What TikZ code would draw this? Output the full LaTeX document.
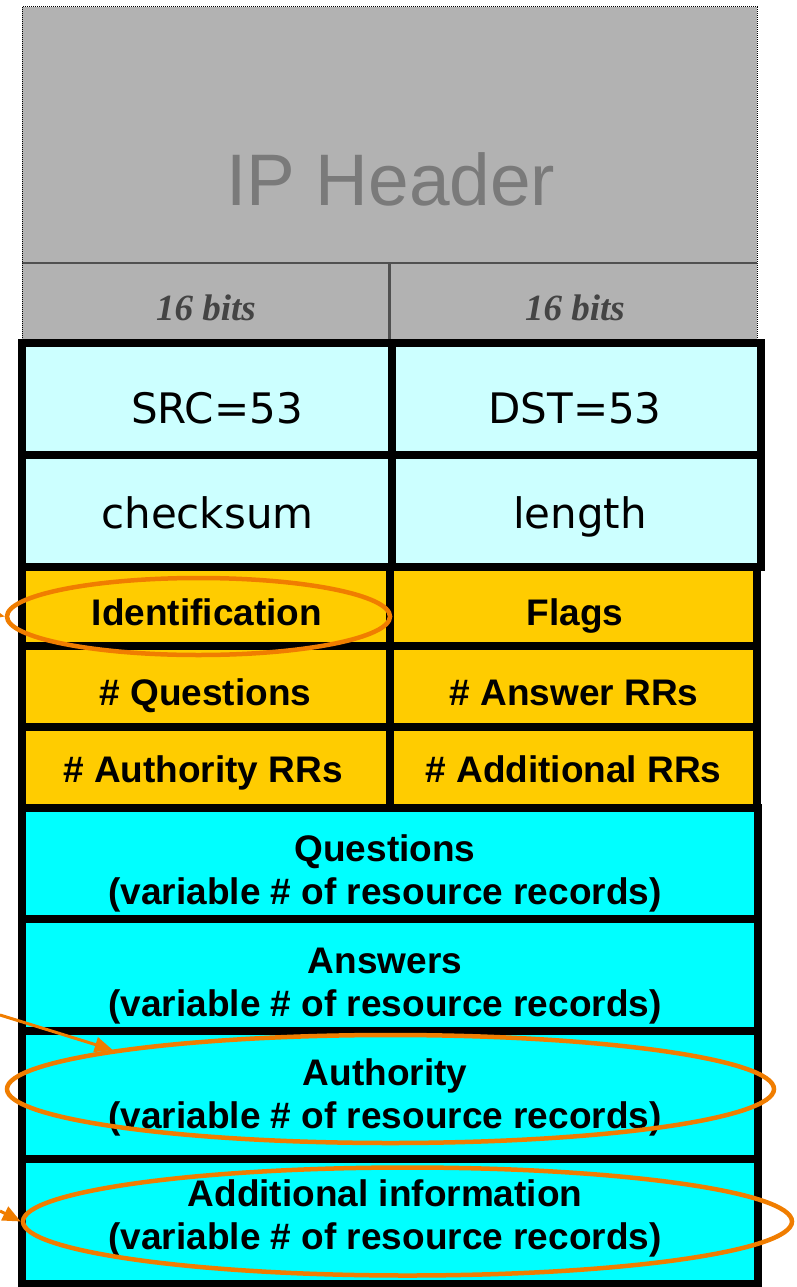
\documentclass[tikz,border=0pt]{standalone}
\usepackage{fontspec}
\setmainfont{Liberation Sans}
\newfontfamily\serifbi{Liberation Serif}
\newfontfamily\handfont{DejaVu Sans}
\usetikzlibrary{shapes.geometric,arrows.meta}
\definecolor{hdrgray}{RGB}{178,178,178}
\definecolor{hdrtext}{RGB}{122,122,122}
\definecolor{bitstext}{RGB}{68,68,68}
\definecolor{rulegray}{RGB}{80,80,80}
\definecolor{udpcyan}{RGB}{204,255,255}
\definecolor{flagorange}{RGB}{255,204,0}
\definecolor{rrcyan}{RGB}{0,255,255}
\definecolor{markorange}{RGB}{240,125,0}

\begin{document}
\begin{tikzpicture}[x=1pt,y=-1pt,
  grid/.style={line width=8pt, black},
  lbl/.style={anchor=base, inner sep=0pt, font=\fontsize{37}{43}\selectfont\bfseries},
  udp/.style={anchor=base, inner sep=0pt, font=\handfont\fontsize{42}{50}\selectfont},
  bits/.style={anchor=base, inner sep=0pt, text=bitstext, font=\serifbi\fontsize{37}{43}\selectfont\bfseries\itshape},
  hilite/.style={ellipse, draw=markorange, line width=4.5pt, inner sep=0pt},
  pointer/.style={markorange, line width=3pt, -{Triangle[length=18pt,width=15pt]}}]

\useasboundingbox (0,0) rectangle (796,1287);
\clip (0,0) rectangle (796,1287);

% IP header block
\fill[hdrgray] (22,7) rectangle (757,340);
\draw[rulegray, line width=2pt] (22,263) -- (757,263);
\draw[rulegray, line width=3pt] (389,263) -- (389,340);
\draw[black, line width=1pt, densely dotted] (22,7) rectangle (757,340);
\node[anchor=base, inner sep=0pt, text=hdrtext, font=\fontsize{73}{80}\selectfont] (iphdr) at (391,205) {IP Header};
\node[bits] (bitsL) at (206,320) {16 bits};
\node[bits] (bitsR) at (575,320) {16 bits};

% UDP header
\fill[udpcyan] (22,343) rectangle (761,566.5);
\draw[grid] (22,343) rectangle (761,566.5);
\draw[grid] (22,454.5) -- (761,454.5);
\draw[grid] (391.5,343) -- (391.5,566.5);
\node[udp] (src) at (217,423) {SRC=53};
\node[udp] (dst) at (575,423) {DST=53};
\node[udp] (csum) at (207.5,528) {checksum};
\node[udp] (len) at (580,528) {length};

% DNS fixed header fields
\fill[flagorange] (22,566.5) rectangle (757,807.5);
\draw[grid] (22,566.5) rectangle (757,807.5);
\draw[grid] (22,646) -- (757,646) (22,726.5) -- (757,726.5) (390,566.5) -- (390,807.5);
\node[lbl] (idtxt) at (207,625) {Identification};
\node[lbl] (flags) at (575,625) {Flags};
\node[lbl] (nq) at (205.5,705) {\# Questions};
\node[lbl] (nans) at (574,705) {\# Answer RRs};
\node[lbl] (nauth) at (203,782) {\# Authority RRs};
\node[lbl] (nadd) at (573.5,782) {\# Additional RRs};

% variable-length sections
\fill[rrcyan] (21.5,807.5) rectangle (758,1284);
\draw[grid] (21.5,807.5) rectangle (758,1284);
\draw[grid] (21.5,919) -- (758,919) (21.5,1030.5) -- (758,1030.5) (21.5,1158.5) -- (758,1158.5);
\node[lbl] (quest) at (385,904) {\begin{tabular}[b]{@{}c@{}}Questions\\(variable \# of resource records)\end{tabular}};
\node[lbl] (answ) at (385,1016) {\begin{tabular}[b]{@{}c@{}}Answers\\(variable \# of resource records)\end{tabular}};
\node[lbl] (auth) at (385,1128) {\begin{tabular}[b]{@{}c@{}}Authority\\(variable \# of resource records)\end{tabular}};
\node[lbl] (addl) at (385,1249) {\begin{tabular}[b]{@{}c@{}}Additional information\\(variable \# of resource records)\end{tabular}};

% highlight rings
\node[hilite, minimum width=383, minimum height=77] (idring) at (198.5,616.5) {};
\node[hilite, minimum width=767, minimum height=108] (authring) at (390.5,1089) {};
\node[hilite, minimum width=769, minimum height=108] (addring) at (407.5,1221.5) {};

% pointers
\coordinate (p0) at (-40,606);
\coordinate (p1) at (0,1015);
\coordinate (p2) at (0,1211);
\draw[pointer] (p0) -- (idring.west);
\draw[pointer] (p1) -- (authring.172);
\draw[pointer] (p2) -- (addring.west);
\end{tikzpicture}
\end{document}
